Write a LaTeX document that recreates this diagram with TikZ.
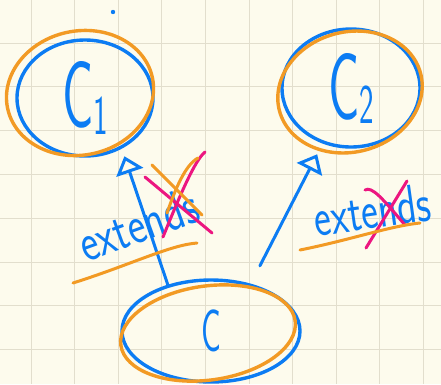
\documentclass[tikz,border=0pt]{standalone}
\usepackage{graphicx}
\definecolor{skblue}{RGB}{12,124,243}
\definecolor{skorange}{RGB}{242,154,36}
\definecolor{skpink}{RGB}{236,22,128}
\definecolor{skpaper}{RGB}{253,251,237}
\definecolor{skgrid}{RGB}{226,222,205}
\usetikzlibrary{arrows.meta,shapes.geometric,calc}

\begin{document}
\begin{tikzpicture}[x=1pt,y=-1pt,
    classoval/.style={ellipse, draw=skblue, line width=3.4pt, inner sep=0pt, text=skblue,
      font=\sffamily},
    ring/.style={draw=skorange, line width=3.4pt},
    extarrow/.style={draw=skblue, line width=3pt, line cap=round,
      -{Triangle[open, length=17pt, width=28pt, line width=3pt]}},
    inkcross/.style={line width=3pt, line cap=round},
    extlabel/.style={text=skblue, font=\sffamily\fontsize{54}{54}\selectfont, inner sep=0pt}]
  % paper with grid
  \fill[skpaper] (0,0) rectangle (441,384);
  \useasboundingbox (0,0) rectangle (441,384);
  \foreach \i in {0,...,9}
    \draw[skgrid, line width=1pt] (31+\i*43.6,0) -- (31+\i*43.6,384);
  \foreach \j in {0,...,7}
    \draw[skgrid, line width=1pt] (0,43+\j*43.8) -- (441,43+\j*43.8);

  % classes
  \node[classoval, minimum width=136pt, minimum height=116pt] (c1) at (85,98)
    {\scalebox{0.55}[1]{\fontsize{95}{95}\selectfont C\raisebox{-7pt}{\fontsize{56}{56}\selectfont 1}}};
  \draw[ring, rotate around={12:(80,93)}] (80,93) ellipse [x radius=74, y radius=62];
  \node[classoval, minimum width=138pt, minimum height=118pt] (c2) at (351,88)
    {\scalebox{0.55}[1]{\fontsize{95}{95}\selectfont C\raisebox{-4pt}{\fontsize{56}{56}\selectfont 2}}};
  \draw[ring, rotate around={15:(350,92)}] (350,92) ellipse [x radius=73, y radius=60];
  \node[classoval, minimum width=178pt, minimum height=102pt] (c) at (211,331)
    {\scalebox{0.55}[1]{\fontsize{60}{60}\selectfont C}};
  \draw[ring, rotate around={8:(208,333)}] (208,333) ellipse [x radius=88, y radius=47];
  \fill[skblue] (113,12) circle (2.2pt);

  % inheritance
  \draw[extarrow, shorten >=8pt] (c.133) -- (c1.-54);
  \draw[extarrow, shorten <=20pt, shorten >=12pt] (c.50) -- (c2.-117);
  \node[extlabel, rotate=20] (ext1) at (138,224) {\scalebox{0.78}[1]{extends}};
  \node[extlabel, rotate=8] (ext2) at (372,210) {\scalebox{0.74}[1]{extends}};

  % strike-outs and underlines
  \draw[skpink, inkcross] (145,177) -- (212,233);
  \draw[skpink, inkcross] (163,237) .. controls (180,195) and (195,160) .. (205,152);
  \draw[skorange, inkcross] (152,165) -- (202,215);
  \draw[skorange, inkcross] (167,213) .. controls (175,190) and (185,165) .. (198,158);
  \draw[skpink, inkcross] (365,190) .. controls (372,186) and (382,198) .. (405,225);
  \draw[skpink, inkcross] (407,181) -- (366,248);
  \draw[skorange, inkcross] (73,283) .. controls (130,265) and (170,245) .. (197,243);
  \draw[skorange, inkcross] (300,250) .. controls (350,240) and (390,226) .. (420,223);
\end{tikzpicture}
\end{document}
